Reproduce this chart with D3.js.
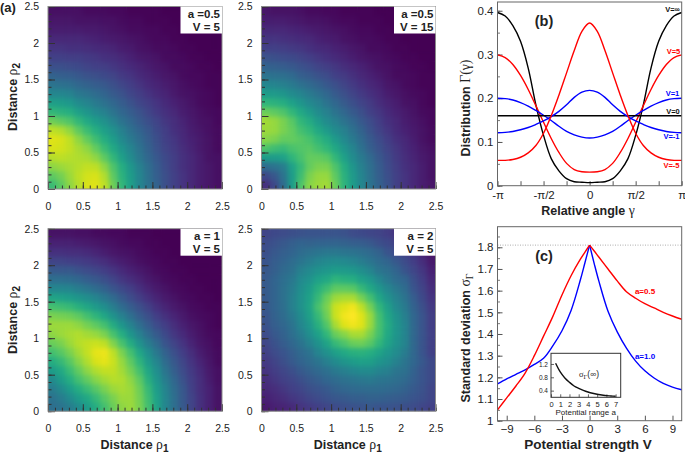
<!DOCTYPE html>
<html>
<head>
<meta charset="utf-8">
<style>
  html, body { margin: 0; padding: 0; background: #fff; }
  svg { display: block; }
  text { font-family: "Liberation Sans", Arial, sans-serif; fill: #222; }
  .greek { font-family: "Liberation Serif", serif; font-weight: normal; }
</style>
<script src="https://cdn.jsdelivr.net/npm/d3@7"></script>
</head>
<body>
<svg id="chart" width="685" height="455"></svg>
<script>
// heat values on a 0-100 colour position, rows go up in rho2, columns go right in rho1, cell 0.125 wide
const heatA05V5 = [
  [68,75,83,89,94,95,90,78,66,56,46,38,31,24,19,15,11,8,6,4],
  [75,79,85,90,93,94,88,75,64,55,46,37,30,24,19,15,11,8,6,4],
  [83,85,87,89,91,90,83,72,62,53,44,36,29,23,18,14,11,8,6,4],
  [89,90,89,88,87,83,75,66,56,48,40,33,27,22,18,14,11,8,5,4],
  [94,93,91,87,83,76,68,60,52,45,38,31,25,20,17,13,10,7,5,3],
  [95,94,90,83,76,69,62,55,47,41,35,29,24,19,16,12,9,7,5,3],
  [90,88,83,75,68,62,56,50,43,37,32,27,22,18,14,11,8,6,4,3],
  [78,75,72,66,60,55,50,44,38,33,28,24,20,16,13,10,7,5,4,2],
  [66,64,62,56,52,47,43,38,33,29,25,21,17,14,11,8,6,4,3,2],
  [56,55,53,48,45,41,37,33,29,25,21,18,15,12,9,7,5,3,2,1],
  [46,46,44,40,38,35,32,28,25,21,18,15,12,10,7,5,4,3,2,1],
  [38,37,36,33,31,29,27,24,21,18,15,12,10,8,6,4,3,2,1,1],
  [31,30,29,27,25,24,22,20,17,15,12,10,8,6,5,3,2,2,1,1],
  [24,24,23,22,20,19,18,16,14,12,10,8,6,5,3,3,2,1,1,0],
  [19,19,18,18,17,16,14,13,11,9,7,6,5,3,3,2,1,1,0,0],
  [15,15,14,14,13,12,11,10,8,7,5,4,3,3,2,1,1,0,0,0],
  [11,11,11,11,10,9,8,7,6,5,4,3,2,2,1,1,0,0,0,0],
  [8,8,8,8,7,7,6,5,4,3,3,2,2,1,1,0,0,0,0,0],
  [6,6,6,5,5,5,4,4,3,2,2,1,1,1,0,0,0,0,0,0],
  [4,4,4,4,3,3,3,2,2,1,1,1,1,0,0,0,0,0,0,0]
];
const heatA05V15 = [
  [14,22,35,55,72,82,85,86,77,65,55,46,38,31,25,19,15,11,8,6],
  [22,27,38,55,69,80,84,84,75,64,54,45,37,30,24,19,15,11,8,5],
  [35,38,42,57,67,76,80,80,72,62,52,43,36,29,23,18,14,11,8,5],
  [55,55,57,65,71,76,76,74,66,57,48,41,34,27,22,17,13,10,7,5],
  [72,69,67,71,73,74,70,66,60,52,45,37,30,25,20,16,12,9,6,4],
  [82,80,76,76,74,71,66,61,54,47,41,34,28,23,18,14,11,8,5,3],
  [85,84,80,76,70,66,60,54,48,43,37,31,25,20,16,12,9,7,5,3],
  [86,84,80,74,66,61,54,48,43,38,33,27,23,18,14,11,8,6,4,2],
  [77,75,72,66,60,54,48,43,38,33,28,24,19,16,12,9,7,5,3,2],
  [65,64,62,57,52,47,43,38,33,28,24,20,17,13,10,8,5,4,2,1],
  [55,54,52,48,45,41,37,33,28,24,20,17,14,11,8,6,4,3,2,1],
  [46,45,43,41,37,34,31,27,24,20,17,14,11,9,6,5,3,2,1,1],
  [38,37,36,34,30,28,25,23,19,17,14,11,9,7,5,3,3,2,1,1],
  [31,30,29,27,25,23,20,18,16,13,11,9,7,5,4,3,2,1,1,0],
  [25,24,23,22,20,18,16,14,12,10,8,6,5,4,3,2,1,1,0,0],
  [19,19,18,17,16,14,12,11,9,8,6,5,3,3,2,1,1,0,0,0],
  [15,15,14,13,12,11,9,8,7,5,4,3,3,2,1,1,0,0,0,0],
  [11,11,11,10,9,8,7,6,5,4,3,2,2,1,1,0,0,0,0,0],
  [8,8,8,7,6,5,5,4,3,2,2,1,1,1,0,0,0,0,0,0],
  [6,5,5,5,4,3,3,2,2,1,1,1,1,0,0,0,0,0,0,0]
];
const heatA1V5 = [
  [36,38,42,48,55,62,70,77,83,85,80,70,58,46,36,28,20,14,9,5],
  [38,42,48,55,60,67,74,80,85,85,79,69,57,46,36,27,20,14,9,5],
  [42,48,55,62,68,74,80,85,87,85,78,67,55,45,35,27,19,13,9,5],
  [48,55,62,70,76,82,86,89,88,83,75,63,52,42,33,25,18,13,8,4],
  [55,60,68,76,83,88,91,91,86,79,70,59,49,39,30,23,17,12,7,4],
  [62,67,74,82,88,94,96,92,84,75,65,54,45,35,27,21,15,10,6,3],
  [70,74,80,86,91,96,97,90,80,70,59,49,40,31,24,18,13,8,5,3],
  [77,80,85,89,91,92,90,81,71,61,51,42,34,26,20,15,10,6,4,2],
  [83,85,87,88,86,84,80,71,62,52,43,35,28,22,16,12,8,5,3,2],
  [85,85,85,83,79,75,70,61,52,44,36,29,23,18,13,9,6,4,2,1],
  [80,79,78,75,70,65,59,51,43,36,29,24,18,14,10,7,4,3,2,1],
  [70,69,67,63,59,54,49,42,35,29,24,19,14,10,7,5,3,2,1,1],
  [58,57,55,52,49,45,40,34,28,23,18,14,10,7,5,3,2,1,1,0],
  [46,46,45,42,39,35,31,26,22,18,14,10,7,5,3,2,1,1,0,0],
  [36,36,35,33,30,27,24,20,16,13,10,7,5,3,2,1,1,0,0,0],
  [28,27,27,25,23,21,18,15,12,9,7,5,3,2,1,1,0,0,0,0],
  [20,20,19,18,17,15,13,10,8,6,4,3,2,1,1,0,0,0,0,0],
  [14,14,13,13,12,10,8,6,5,4,3,2,1,1,0,0,0,0,0,0],
  [9,9,9,8,7,6,5,4,3,2,2,1,1,0,0,0,0,0,0,0],
  [5,5,5,4,4,3,3,2,2,1,1,1,0,0,0,0,0,0,0,0]
];
const heatA2V5 = [
  [7,9,10,12,15,17,19,21,23,24,25,26,27,26,26,25,24,23,21,19],
  [9,11,13,16,18,21,23,25,27,28,30,30,31,31,30,29,28,26,24,21],
  [11,13,16,19,21,24,26,28,31,33,34,35,35,35,34,33,31,28,25,21],
  [13,16,19,21,24,27,30,33,35,37,39,40,41,39,38,36,34,30,26,22],
  [15,18,21,24,28,31,34,37,41,43,46,48,48,45,43,39,37,31,26,22],
  [17,20,24,28,32,35,39,43,48,52,55,57,56,52,49,44,39,33,27,22],
  [19,23,26,30,34,38,45,50,56,60,63,64,62,58,53,48,42,33,26,19],
  [21,25,29,33,38,44,51,58,67,72,77,78,74,66,58,51,45,33,26,19],
  [23,27,31,36,42,49,57,66,77,82,87,87,80,70,60,52,45,33,26,19],
  [25,30,33,38,46,53,63,73,87,95,98,95,85,71,61,52,45,33,26,18],
  [26,31,35,41,48,56,67,78,92,98,100,95,85,70,59,51,43,33,26,18],
  [27,32,36,43,50,58,71,80,92,95,98,90,79,66,56,47,41,31,24,17],
  [28,32,37,43,50,57,67,77,85,87,87,79,70,59,51,44,38,29,22,15],
  [28,32,37,42,49,55,63,69,75,75,74,67,60,53,46,40,35,26,20,13],
  [28,32,36,40,47,51,57,60,65,63,62,57,53,46,40,35,32,24,18,11],
  [27,30,34,37,43,47,51,53,55,54,53,49,45,39,36,32,26,21,16,9],
  [26,29,32,35,39,42,45,47,48,47,45,42,39,35,32,27,23,18,13,7],
  [24,27,30,32,35,37,39,40,40,39,38,36,34,31,26,23,19,15,10,5],
  [23,25,27,30,32,31,32,32,32,31,30,29,27,24,22,19,15,12,7,3],
  [20,22,23,24,25,26,26,26,26,25,23,22,21,20,18,15,12,9,5,2]
];

const rhoTicks = [0, 0.5, 1, 1.5, 2, 2.5];

// panel b, half the curve in degrees, the other half is its mirror
const gammaDeg = [0, 15, 30, 45, 60, 75, 90, 105, 120, 135, 150, 165, 180];
const gammaVInf = [0.007, 0.008, 0.009, 0.016, 0.034, 0.062, 0.115, 0.185, 0.269, 0.33, 0.366, 0.388, 0.396];
const gammaV5 = [0.031, 0.032, 0.037, 0.051, 0.076, 0.108, 0.145, 0.183, 0.22, 0.252, 0.277, 0.293, 0.299];
const gammaV1 = [0.109, 0.111, 0.116, 0.124, 0.136, 0.149, 0.161, 0.172, 0.182, 0.19, 0.196, 0.199, 0.2];
const gammaV0 = [0.16, 0.16, 0.16, 0.16, 0.16, 0.16, 0.16, 0.16, 0.16, 0.16, 0.16, 0.16, 0.16];
const gammaVm1 = [0.218, 0.214, 0.202, 0.185, 0.17, 0.158, 0.148, 0.14, 0.133, 0.128, 0.124, 0.122, 0.121];
const gammaVm5 = [0.372, 0.353, 0.309, 0.258, 0.207, 0.16, 0.12, 0.092, 0.075, 0.065, 0.06, 0.058, 0.058];

// panel c
const strengthV = [-10,-9,-8,-7,-6,-5,-4,-3,-2,-1,-0.5,0,0.5,1,2,3,4,5,6,7,8,9,10];
const sigmaA05 = [1.05,1.105,1.16,1.22,1.3,1.39,1.48,1.58,1.67,1.745,1.778,1.81,1.783,1.755,1.7,1.645,1.595,1.565,1.54,1.52,1.5,1.483,1.468];
const sigmaA10 = [1.17,1.193,1.214,1.235,1.26,1.288,1.345,1.415,1.51,1.65,1.73,1.81,1.725,1.645,1.505,1.41,1.335,1.275,1.23,1.197,1.172,1.155,1.143];
const sigmaMax = 1.81;

// inset of panel c
const rangeA = [0.5,1,1.5,2,2.5,3,3.5,4,4.5,5,5.5,6,6.5,7];
const sigmaInf = [1.22,0.96,0.78,0.65,0.54,0.47,0.41,0.36,0.32,0.29,0.27,0.25,0.24,0.23];

const svg = d3.select("#chart");
const defs = svg.append("defs");
defs.append("filter").attr("id", "smooth")
    .attr("color-interpolation-filters", "sRGB")
    .append("feGaussianBlur").attr("stdDeviation", 2.8);

const color = d3.scaleSequential(d3.interpolateViridis).domain([0, 100]);
const cellStep = 0.125;

function axisLook(g, tickColor, fontSize, textColor) {
    g.select(".domain").remove();
    g.selectAll(".tick line").attr("stroke", tickColor);
    g.selectAll(".tick text").attr("font-size", fontSize).attr("fill", textColor)
        .attr("font-family", '"Liberation Sans", Arial, sans-serif');
}

// rotated or flat title with a greek letter and optional subscript
function title(x, y, rotate, size, parts) {
    let t = svg.append("text")
        .attr("transform", `translate(${x},${y})` + (rotate ? " rotate(-90)" : ""))
        .attr("text-anchor", "middle")
        .attr("font-size", size)
        .attr("font-weight", "bold");
    parts.forEach(function (p) {
        let s = t.append("tspan").text(p.text);
        if (p.greek) s.attr("class", "greek").attr("font-size", size * 1.1);
        if (p.sub) s.attr("baseline-shift", "-3px").attr("font-size", size * 0.8);
    });
    return t;
}

function heatPanel(id, grid, left, top, lines) {
    const w = 174, h = 182.5;
    const x = d3.scaleLinear().domain([0, 2.5]).range([left, left + w]);
    const y = d3.scaleLinear().domain([0, 2.5]).range([top + h, top]);

    defs.append("clipPath").attr("id", "clip" + id)
        .append("rect").attr("x", left).attr("y", top).attr("width", w).attr("height", h);

    const cells = grid.flatMap(function (row, r) {
        return row.map(function (v, c) { return {r: r, c: c, v: v}; });
    });
    const holder = svg.append("g").attr("clip-path", `url(#clip${id})`);
    // base layer keeps the edge colours, the blurred layer softens the cells
    [holder.append("g"), holder.append("g").attr("filter", "url(#smooth)")].forEach(function (layer) {
        layer.selectAll("rect").data(cells).enter().append("rect")
            .attr("x", d => x(d.c * cellStep))
            .attr("y", d => y((d.r + 1) * cellStep))
            .attr("width", x(cellStep) - x(0) + 0.5)
            .attr("height", y(0) - y(cellStep) + 0.5)
            .attr("fill", d => color(d.v));
    });

    const minor = d3.range(0, 2.51, 0.1);
    svg.append("g").attr("transform", `translate(0,${top + h})`)
        .call(d3.axisBottom(x).tickValues(minor).tickSize(-3.5).tickFormat(""))
        .call(axisLook, "#333", 0, "#333");
    svg.append("g").attr("transform", `translate(${left},0)`)
        .call(d3.axisLeft(y).tickValues(minor).tickSize(-3.5).tickFormat(""))
        .call(axisLook, "#333", 0, "#333");
    svg.append("g").attr("transform", `translate(0,${top + h})`)
        .call(d3.axisBottom(x).tickValues(rhoTicks).tickSize(-7).tickPadding(13.5).tickFormat(d3.format("")))
        .call(axisLook, "#333", 10.5, "#333");
    svg.append("g").attr("transform", `translate(${left},0)`)
        .call(d3.axisLeft(y).tickValues(rhoTicks).tickSize(-7).tickPadding(9).tickFormat(d3.format("")))
        .call(axisLook, "#333", 10.5, "#333");

    svg.append("rect").attr("x", left).attr("y", top).attr("width", w).attr("height", h)
        .attr("fill", "none").attr("stroke", "#8a8a8a").attr("stroke-width", 1);

    svg.append("rect").attr("x", left + w - 41.5).attr("y", top).attr("width", 41.5).attr("height", 27)
        .attr("fill", "#fff");
    lines.forEach(function (s, i) {
        svg.append("text").attr("x", left + w - 2).attr("y", top + 11.5 + i * 12.5)
            .attr("text-anchor", "end").attr("font-size", 11.5).attr("font-weight", "bold")
            .text(s);
    });
}

heatPanel("p1", heatA05V5, 48, 6.5, ["a =0.5", "V = 5"]);
heatPanel("p2", heatA05V15, 261.5, 6.5, ["a =0.5", "V = 15"]);
heatPanel("p3", heatA1V5, 48, 228.7, ["a = 1", "V = 5"]);
heatPanel("p4", heatA2V5, 261.5, 228.7, ["a = 2", "V = 5"]);

title(17, 97, true, 12.5, [{text: "Distance "}, {text: "ρ", greek: true}, {text: "2", sub: true}]);
title(17, 320, true, 12.5, [{text: "Distance "}, {text: "ρ", greek: true}, {text: "2", sub: true}]);
title(134.5, 449, false, 12.5, [{text: "Distance "}, {text: "ρ", greek: true}, {text: "1", sub: true}]);
title(347.7, 449, false, 12.5, [{text: "Distance "}, {text: "ρ", greek: true}, {text: "1", sub: true}]);

svg.append("text").attr("x", 0).attr("y", 12).attr("font-size", 13).attr("font-weight", "bold").text("(a)");

// panel b
const bLeft = 497.5, bRight = 681.7, bTop = 2, bBottom = 185.7;
const xGamma = d3.scaleLinear().domain([-Math.PI, Math.PI]).range([bLeft, bRight]);
const yGamma = d3.scaleLinear().domain([0, 0.42]).range([bBottom, bTop]);
const piLabels = new Map([[-Math.PI, "-π"], [-Math.PI / 2, "-π/2"], [0, "0"], [Math.PI / 2, "π/2"], [Math.PI, "π"]]);

const gammaLine = d3.line().curve(d3.curveCatmullRom)
    .x(d => xGamma(d[0])).y(d => yGamma(d[1]));

function mirrored(values) {
    const right = gammaDeg.map((g, i) => [g * Math.PI / 180, values[i]]);
    const left = right.slice(1).reverse().map(d => [-d[0], d[1]]);
    return left.concat(right);
}

const gammaSeries = [
    {values: gammaVInf, color: "#000", name: "V=∞", y: 9.5, x: 672.5},
    {values: gammaV5, color: "#f00", name: "V=5", y: 51, x: 673.5},
    {values: gammaV1, color: "#00f", name: "V=1", y: 93, x: 672.5},
    {values: gammaV0, color: "#000", name: "V=0", y: 111, x: 673},
    {values: gammaVm1, color: "#00f", name: "V=-1", y: 136, x: 671.5},
    {values: gammaVm5, color: "#f00", name: "V=-5", y: 165, x: 671.5}
];

svg.append("g").attr("transform", `translate(0,${bBottom})`)
    .call(d3.axisBottom(xGamma).tickValues(d3.range(-4, 5).map(k => k * Math.PI / 4))
        .tickSize(-4.5).tickPadding(5).tickFormat(d => piLabels.get(d) || ""))
    .call(axisLook, "#555", 11.5, "#333");
svg.append("g").attr("transform", `translate(${bLeft},0)`)
    .call(d3.axisLeft(yGamma).tickValues(d3.range(0, 0.41, 0.05)).tickSize(-2.5).tickFormat(""))
    .call(axisLook, "#777", 0, "#333");
svg.append("g").attr("transform", `translate(${bLeft},0)`)
    .call(d3.axisLeft(yGamma).tickValues([0, 0.1, 0.2, 0.3, 0.4]).tickSize(-5).tickPadding(4).tickFormat(d3.format("")))
    .call(axisLook, "#555", 11.5, "#333");

gammaSeries.forEach(function (s) {
    svg.append("path").datum(mirrored(s.values))
        .attr("d", gammaLine).attr("fill", "none")
        .attr("stroke", s.color).attr("stroke-width", 1.4);
    svg.append("text").attr("x", s.x).attr("y", s.y).attr("dy", "0.35em")
        .attr("text-anchor", "middle").attr("font-size", 7.5).attr("font-weight", "bold")
        .style("fill", s.color === "#000" ? "#111" : s.color).text(s.name);
});

svg.append("rect").attr("x", bLeft).attr("y", bTop).attr("width", bRight - bLeft).attr("height", bBottom - bTop)
    .attr("fill", "none").attr("stroke", "#666").attr("stroke-width", 1);

svg.append("text").attr("x", 544).attr("y", 26).attr("text-anchor", "middle")
    .attr("font-size", 14.5).attr("font-weight", "bold").text("(b)");

title(470, 108, true, 12.5, [{text: "Distribution "}, {text: "Γ(γ)", greek: true}]);
title(588, 214.5, false, 12.5, [{text: "Relative angle "}, {text: "γ", greek: true}]);

// panel c
const cLeft = 497.5, cRight = 681.7, cTop = 226.7, cBottom = 420.7;
const xV = d3.scaleLinear().domain([-10, 10]).range([cLeft, cRight]);
const yS = d3.scaleLinear().domain([1, 1.895]).range([cBottom, cTop]);

svg.append("g").attr("transform", `translate(0,${cBottom})`)
    .call(d3.axisBottom(xV).tickValues([-9, -6, -3, 0, 3, 6, 9]).tickSize(-5).tickPadding(4).tickFormat(d3.format("")))
    .call(axisLook, "#555", 11.5, "#333");
svg.append("g").attr("transform", `translate(${cLeft},0)`)
    .call(d3.axisLeft(yS).tickValues(d3.range(1, 1.86, 0.05)).tickSize(-2.5).tickFormat(""))
    .call(axisLook, "#777", 0, "#333");
svg.append("g").attr("transform", `translate(${cLeft},0)`)
    .call(d3.axisLeft(yS).tickValues([1, 1.1, 1.2, 1.3, 1.4, 1.5, 1.6, 1.7, 1.8]).tickSize(-5).tickPadding(4).tickFormat(d3.format("")))
    .call(axisLook, "#555", 11.5, "#333");

svg.append("line").attr("x1", cLeft).attr("x2", cRight).attr("y1", yS(sigmaMax)).attr("y2", yS(sigmaMax))
    .attr("stroke", "#999").attr("stroke-width", 0.8).attr("stroke-dasharray", "1,1.5");

// each curve is drawn as two branches so the cusp at V=0 stays sharp
const sigmaLine = d3.line().curve(d3.curveCatmullRom).x(d => xV(d[0])).y(d => yS(d[1]));
[{values: sigmaA10, color: "#00f"}, {values: sigmaA05, color: "#f00"}].forEach(function (s) {
    const pts = strengthV.map((v, i) => [v, s.values[i]]);
    [pts.filter(d => d[0] <= 0), pts.filter(d => d[0] >= 0)].forEach(function (branch) {
        svg.append("path").datum(branch).attr("d", sigmaLine).attr("fill", "none")
            .attr("stroke", s.color).attr("stroke-width", 1.4);
    });
});

svg.append("text").attr("x", 645).attr("y", 291).attr("dy", "0.35em").attr("text-anchor", "middle")
    .attr("font-size", 8).attr("font-weight", "bold").style("fill", "#f00").text("a=0.5");
svg.append("text").attr("x", 645).attr("y", 356).attr("dy", "0.35em").attr("text-anchor", "middle")
    .attr("font-size", 8).attr("font-weight", "bold").style("fill", "#00f").text("a=1.0");

svg.append("rect").attr("x", cLeft).attr("y", cTop).attr("width", cRight - cLeft).attr("height", cBottom - cTop)
    .attr("fill", "none").attr("stroke", "#666").attr("stroke-width", 1);

svg.append("text").attr("x", 544).attr("y", 261).attr("text-anchor", "middle")
    .attr("font-size", 14.5).attr("font-weight", "bold").text("(c)");

title(470, 338, true, 12.5, [{text: "Standard deviation "}, {text: "σ", greek: true}, {text: "Γ", greek: true, sub: true}]);
title(588, 449, false, 13.5, [{text: "Potential strength V"}]);

// inset
const iLeft = 551, iRight = 620.7, iTop = 353.3, iBottom = 397.3;
const xA = d3.scaleLinear().domain([0, 7.55]).range([iLeft, iRight]);
const yI = d3.scaleLinear().domain([0.2, 1.52]).range([iBottom, iTop]);

svg.append("rect").attr("x", iLeft).attr("y", iTop).attr("width", iRight - iLeft).attr("height", iBottom - iTop)
    .attr("fill", "#fff");
svg.append("g").attr("transform", `translate(0,${iBottom})`)
    .call(d3.axisBottom(xA).tickValues(d3.range(0, 8)).tickSize(-3).tickPadding(4.4).tickFormat(d3.format("")))
    .call(axisLook, "#666", 7.5, "#333");
svg.append("g").attr("transform", `translate(${iLeft},0)`)
    .call(d3.axisLeft(yI).tickValues([0.4, 0.8, 1.2]).tickSize(-3).tickPadding(3).tickFormat(d3.format("")))
    .call(axisLook, "#666", 6.5, "#333");
svg.append("path").datum(rangeA.map((a, i) => [a, sigmaInf[i]]))
    .attr("d", d3.line().curve(d3.curveCatmullRom).x(d => xA(d[0])).y(d => yI(d[1])))
    .attr("fill", "none").attr("stroke", "#111").attr("stroke-width", 1.4);
svg.append("rect").attr("x", iLeft).attr("y", iTop).attr("width", iRight - iLeft).attr("height", iBottom - iTop)
    .attr("fill", "none").attr("stroke", "#333").attr("stroke-width", 1);

svg.append("text").attr("x", 585.7).attr("y", 415).attr("text-anchor", "middle")
    .attr("font-size", 8).attr("fill", "#333").text("Potential range a");
let inTitle = svg.append("text").attr("x", 589).attr("y", 377).attr("text-anchor", "middle").attr("font-size", 8.5);
inTitle.append("tspan").attr("class", "greek").text("σ");
inTitle.append("tspan").attr("class", "greek").attr("baseline-shift", "-2px").attr("font-size", 6.5).text("Γ");
inTitle.append("tspan").text("(∞)");
</script>
</body>
</html>
